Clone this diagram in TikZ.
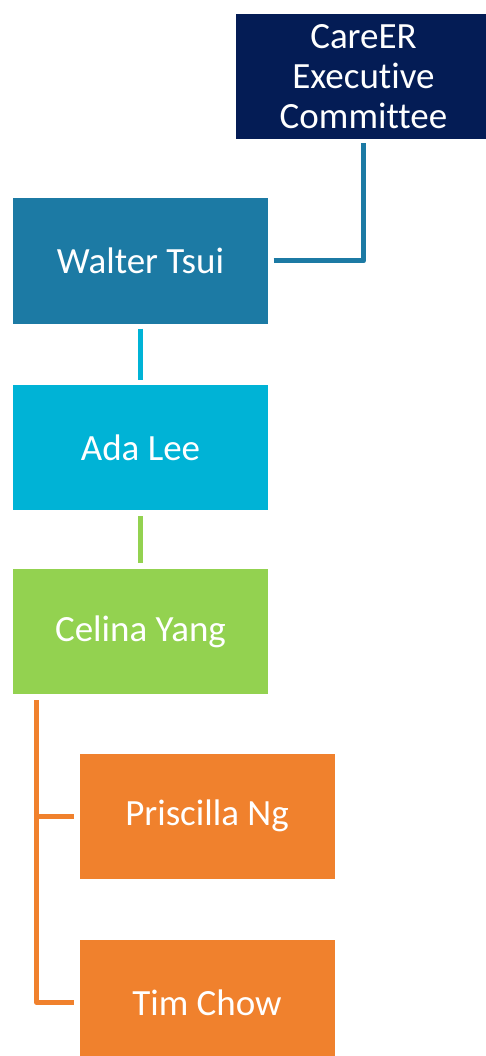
\documentclass[tikz,border=0pt]{standalone}
\usepackage{fontspec}
\setmainfont[Ligatures={NoCommon,NoContextual}]{Carlito}
\usetikzlibrary{positioning}
\definecolor{navy}{HTML}{041C55}
\definecolor{steel}{HTML}{1C7AA4}
\definecolor{cyan}{HTML}{00B3D6}
\definecolor{lime}{HTML}{93D250}
\definecolor{tang}{HTML}{F0812D}
\begin{document}
\begin{tikzpicture}[x=1pt,y=-1pt,
	member/.style={rectangle,fill=#1,text=white,minimum width=255pt,minimum height=125pt,
		inner sep=0pt,font=\fontsize{37}{40}\selectfont,align=center},
	link/.style={draw=#1,line width=5pt,line join=round}]
\useasboundingbox (0,0) rectangle (486,1056);
\node[member=navy] (exec) at (363.5,76.5) {CareER\\Executive\\Committee};
\node[member=steel] (walter) at (140.5,261) {Walter Tsui};
\node[member=cyan] (ada) at (140.5,447.5) {Ada Lee};
\node[member=lime] (celina) at (140.5,631.5) {Celina Yang};
\node[member=tang] (priscilla) at (207,816) {Priscilla Ng};
\node[member=tang] (tim) at (207,1002.5) {Tim Chow};
\coordinate (trunk) at ([xshift=24pt,yshift=-6pt]celina.south west);
\draw[link=steel,shorten <=5.5pt,shorten >=4pt] (walter.east) -| (exec.south);
\draw[link=cyan,shorten <=5pt,shorten >=5pt] (walter) -- (ada);
\draw[link=lime,shorten <=6pt,shorten >=6pt] (ada) -- (celina);
\draw[link=tang,shorten >=5.5pt] (trunk) |- (priscilla.west);
\draw[link=tang,shorten >=5.5pt] (trunk) |- (tim.west);
\end{tikzpicture}
\end{document}
